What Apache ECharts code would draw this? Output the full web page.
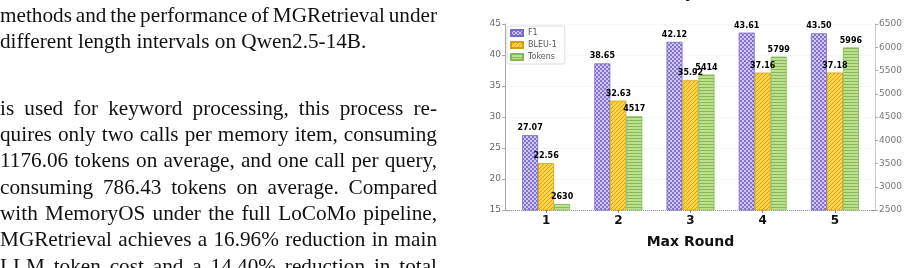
<!DOCTYPE html>
<html>
<head>
<meta charset="utf-8">
<script src="https://cdn.jsdelivr.net/npm/echarts@6/dist/echarts.min.js"></script>
<style>
  html, body { margin: 0; padding: 0; background: #fff; }
  #page { position: relative; width: 908px; height: 268px; overflow: hidden; }
  #chart { position: absolute; left: 0; top: 0; width: 908px; height: 268px; }
  .txt {
    position: absolute; left: 0; height: 26px; line-height: 26px;
    font-family: "Liberation Serif", "Times New Roman", serif; font-size: 22px; color: #111;
    white-space: nowrap; z-index: 2; transform-origin: 0 50%;
  }
</style>
</head>
<body>
<div id="page">
  <div id="chart"></div>
</div>
<script>
  // chart data
  var rounds = ['1', '2', '3', '4', '5'];
  var f1     = [27.07, 38.65, 42.12, 43.61, 43.50];
  var bleu1  = [22.56, 32.63, 35.92, 37.16, 37.18];
  var tokens = [2630, 4517, 5414, 5799, 5996];

  // paper text on the left: [text, center y, justified]
  var textLines = [
    ['methods and the performance of MGRetrieval under', 15, true],
    ['different length intervals on Qwen2.5-14B.', 41, false],
    ['is used for keyword processing, this process re-', 108, true],
    ['quires only two calls per memory item, consuming', 134, true],
    ['1176.06 tokens on average, and one call per query,', 160, true],
    ['consuming 786.43 tokens on average. Compared', 187, true],
    ['with MemoryOS under the full LoCoMo pipeline,', 213, true],
    ['MGRetrieval achieves a 16.96% reduction in main', 239, true],
    ['LLM token cost and a 14.40% reduction in total', 266, true]
  ];
  var TEXT_W = 437;
  var SQUEEZE = 0.965;   // the page scan is a bit narrower than plain Times

  var page = document.getElementById('page');
  textLines.forEach(function (l) {
    var d = document.createElement('div');
    d.className = 'txt';
    d.style.top = (l[1] - 13) + 'px';
    d.textContent = l[0];
    page.appendChild(d);
    if (l[2]) {
      // justify: stretch the word spaces to fill the column
      var spaces = l[0].split(' ').length - 1;
      var w = d.getBoundingClientRect().width;
      d.style.wordSpacing = ((TEXT_W / SQUEEZE - w) / spaces) + 'px';
    }
    d.style.transform = 'scaleX(' + SQUEEZE + ')';
  });

  // hatch fills, like matplotlib hatches
  function tile(size, bg, fg, hit) {
    var c = document.createElement('canvas');
    c.width = c.height = size;
    var g = c.getContext('2d');
    g.fillStyle = bg;
    g.fillRect(0, 0, size, size);
    g.fillStyle = fg;
    for (var x = 0; x < size; x++) {
      for (var y = 0; y < size; y++) {
        if (hit(x, y)) g.fillRect(x, y, 1, 1);
      }
    }
    return { image: c, repeat: 'repeat' };
  }
  var checkFill = tile(4, '#cfc6f2', '#8473cf', function (x, y) { return ((x >> 1) + (y >> 1)) % 2 == 0; });
  var slashFill = tile(4, '#ffd54a', '#dca21c', function (x, y) { return (x + y) % 4 == 3; });
  var lineFill  = tile(3, '#bde08f', '#86b858', function (x, y) { return y == 0; });

  var FONT = 'DejaVu Sans';
  function label(fmt) {
    return {
      show: true, position: 'top', distance: 3,
      fontFamily: FONT, fontSize: 8, fontWeight: 'bold', color: '#000',
      formatter: fmt
    };
  }
  var two = function (p) { return p.value.toFixed(2); };
  var whole = function (p) { return String(p.value); };

  var chart = echarts.init(document.getElementById('chart'), null, { renderer: 'canvas' });
  chart.setOption({
    animation: false,
    textStyle: { fontFamily: FONT },
    grid: { left: 510, top: 24, width: 361, height: 186 },
    legend: {
      orient: 'vertical', left: 507, top: 26,
      itemWidth: 12, itemHeight: 6, itemGap: 4,
      icon: 'rect',
      padding: [3, 8, 3, 3],
      borderColor: '#dddddd', borderWidth: 1, borderRadius: 2,
      backgroundColor: '#fff',
      textStyle: { fontSize: 8, color: '#555', fontFamily: FONT },
      data: ['F1', 'BLEU-1', 'Tokens']
    },
    xAxis: {
      type: 'category', data: rounds,
      axisLine: { show: false },
      axisTick: { show: true, alignWithLabel: true, length: 3, lineStyle: { color: '#888' } },
      axisLabel: { fontSize: 12, fontWeight: 'bold', color: '#111', margin: 5, fontFamily: FONT },
      name: 'Max Round', nameLocation: 'middle', nameGap: 25,
      nameTextStyle: { fontSize: 14, fontWeight: 'bold', color: '#111', fontFamily: FONT }
    },
    yAxis: [{
      type: 'value', min: 15, max: 45, interval: 5, offset: 5,
      axisLine: { show: true, lineStyle: { color: '#aaa' } },
      axisTick: { show: true, length: 3, lineStyle: { color: '#aaa' } },
      axisLabel: { fontSize: 9, color: '#666', margin: 4, fontFamily: FONT },
      splitLine: { show: true, lineStyle: { color: '#eeeeee', type: 'dotted' } }
    }, {
      type: 'value', min: 2500, max: 6500, interval: 500, offset: 4, position: 'right',
      axisLine: { show: true, lineStyle: { color: '#cccccc' } },
      axisTick: { show: true, length: 3, lineStyle: { color: '#aaa' } },
      axisLabel: { fontSize: 9, color: '#777', margin: 4, fontFamily: FONT, formatter: function (v) { return String(v); } },
      splitLine: { show: false }
    }],
    graphic: [
      { type: 'line', silent: true, shape: { x1: 505, y1: 210.5, x2: 875, y2: 210.5 }, style: { stroke: '#999', lineWidth: 1 } },
      { type: 'text', silent: true, style: { text: 'Max Round Study', x: 694, y: 1, align: 'right', verticalAlign: 'bottom', font: 'bold 14px "DejaVu Sans"', fill: '#111' } }
    ],
    series: [{
      name: 'F1', type: 'bar', yAxisIndex: 0, data: f1,
      barWidth: 16, barGap: '0%',
      itemStyle: { color: checkFill, borderColor: '#7a68c6', borderWidth: 0.8 },
      label: label(two)
    }, {
      name: 'BLEU-1', type: 'bar', yAxisIndex: 0, data: bleu1,
      barWidth: 16, barGap: '0%',
      itemStyle: { color: slashFill, borderColor: '#d49e10', borderWidth: 0.8 },
      label: label(two)
    }, {
      name: 'Tokens', type: 'bar', yAxisIndex: 1, data: tokens,
      barWidth: 16, barGap: '0%',
      itemStyle: { color: lineFill, borderColor: '#84b85a', borderWidth: 0.8 },
      label: label(whole)
    }]
  });
</script>
</body>
</html>
